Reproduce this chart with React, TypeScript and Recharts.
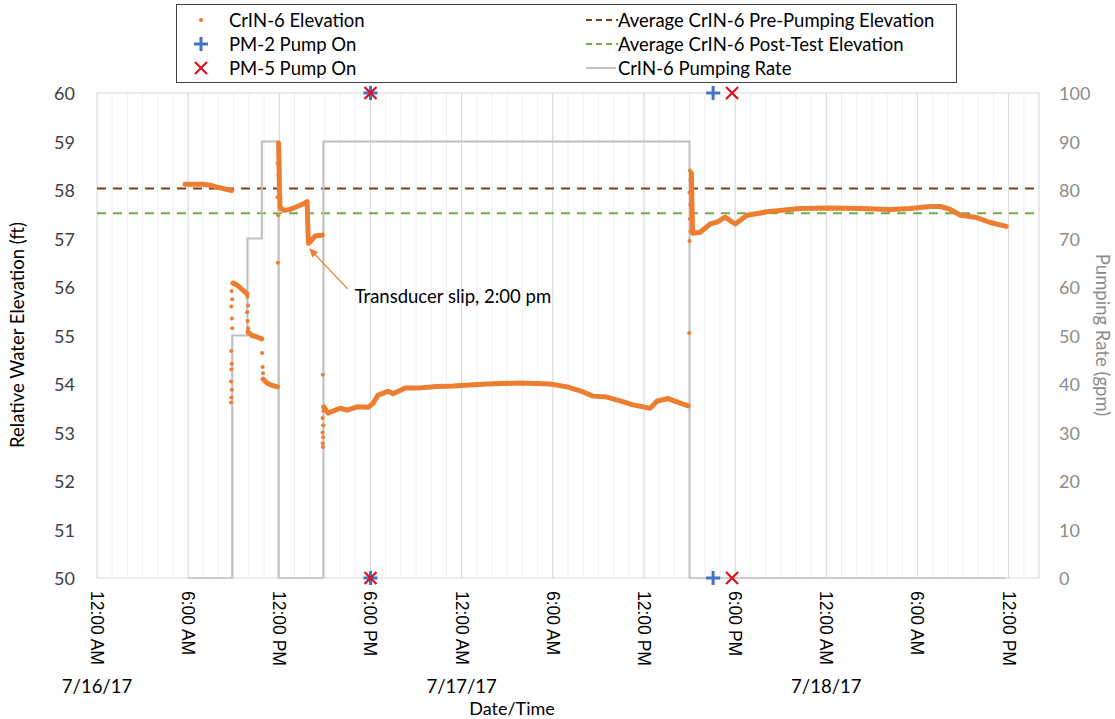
import { ComposedChart, Line, Scatter, XAxis, YAxis, CartesianGrid, ReferenceLine } from 'recharts';

// hours since 7/16/17 12:00 AM
const HOUR_TICKS = Array.from({ length: 63 }, (_, i) => i);
const TIME_LABELS = ['12:00 AM', '6:00 AM', '12:00 PM', '6:00 PM'];
const DATE_LABELS = ['7/16/17', '7/17/17', '7/18/17'];
const ELEV_TICKS = [50, 51, 52, 53, 54, 55, 56, 57, 58, 59, 60];
const RATE_TICKS = [0, 10, 20, 30, 40, 50, 60, 70, 80, 90, 100];

// CrIN-6 elevation, continuous stretches [hour, ft]
const prePumping = [[5.8, 58.12], [6.45, 58.12], [6.98, 58.12], [7.44, 58.1], [7.9, 58.06], [8.43, 58.02], [8.87, 57.99]];
const step50 = [[8.95, 56.08], [9.22, 56.04], [9.55, 55.95], [9.87, 55.86]];
const step70 = [[9.94, 55.07], [10.2, 55.0], [10.53, 54.97], [10.84, 54.93]];
const step90 = [[10.93, 54.1], [11.19, 54.02], [11.52, 53.97], [11.88, 53.94]];
const firstRecovery = [
  [11.95, 58.97], [11.98, 58.6], [12.01, 58.0], [12.05, 57.63], [12.31, 57.58], [12.7, 57.6],
  [13.17, 57.66], [13.63, 57.72], [13.83, 57.76], [13.87, 57.3], [13.92, 56.9], [14.09, 56.95],
  [14.35, 57.05], [14.68, 57.06], [14.83, 57.07],
];
const mainTest = [
  [14.92, 53.53], [15.21, 53.4], [15.6, 53.45], [16.0, 53.5], [16.46, 53.46], [17.12, 53.53],
  [17.84, 53.52], [18.17, 53.6], [18.5, 53.77], [19.16, 53.85], [19.49, 53.8], [20.28, 53.92],
  [21.26, 53.92], [22.38, 53.95], [23.44, 53.96], [24.56, 53.98], [25.67, 54.0], [27.85, 54.02],
  [29.82, 54.0], [30.94, 53.94], [31.8, 53.86], [32.65, 53.75], [33.57, 53.73], [34.43, 53.65],
  [35.29, 53.57], [36.41, 53.5], [36.87, 53.65], [37.59, 53.7], [38.25, 53.62], [38.91, 53.55],
];
const postTest = [
  [39.12, 58.35], [39.2, 57.11], [39.7, 57.13], [40.36, 57.3], [40.82, 57.34], [41.34, 57.44],
  [42.0, 57.3], [42.79, 57.48], [44.1, 57.55], [46.28, 57.62], [48.26, 57.63], [50.23, 57.62],
  [52.2, 57.6], [53.52, 57.62], [54.84, 57.66], [55.5, 57.66], [56.16, 57.6], [56.81, 57.48],
  [57.8, 57.44], [58.79, 57.33], [59.84, 57.25],
];
// sparse readings during rapid changes
const rapidReadings = [
  [8.86, 55.92], [8.9, 55.75], [8.84, 55.6], [8.88, 55.35], [8.9, 55.15], [8.83, 54.68],
  [8.87, 54.42], [8.84, 54.3], [8.82, 54.05], [8.87, 53.88], [8.84, 53.72], [8.82, 53.62],
  [9.9, 55.8], [9.94, 55.62], [9.88, 55.48], [9.91, 55.3], [9.95, 55.15],
  [10.87, 54.64], [10.9, 54.35], [10.92, 54.22],
  [11.9, 56.5], [11.92, 57.48], [11.88, 57.85], [11.93, 58.3], [11.9, 58.55], [11.94, 58.75],
  [14.86, 54.19], [14.9, 53.45], [14.85, 53.3], [14.89, 53.15], [14.84, 53.0], [14.88, 52.9],
  [14.85, 52.78], [14.87, 52.7],
  [39.02, 58.4], [39.06, 58.2], [39.0, 57.95], [39.05, 57.7], [39.02, 57.4], [39.06, 57.15],
  [39.0, 56.95], [38.98, 55.05],
];

// CrIN-6 pumping rate (gpm)
const pumpTimes = [6, 8.9, 9.9, 10.85, 11.95, 14.9, 39.0, 59.84];
const pumpRates = [0, 50, 70, 90, 0, 90, 0, 0];

// pump start markers, drawn at the top and bottom of the plot
const pm2On = [18, 40.55];
const pm5On = [18, 41.8];

const PRE_PUMPING_AVG = 58.03;
const POST_TEST_AVG = 57.52;

const ORANGE = '#ED7D31';
const BLUE = '#4472C4';
const RED = '#E0101E';
const FONT = 'Lato, "Noto Sans", sans-serif';

const toPts = (arr: number[][]) => arr.map(([t, e]) => ({ t, e }));
const pumpData = pumpTimes.map((t, i) => ({ t, rate: pumpRates[i] }));
const edges = (times: number[]) => times.flatMap(t => [{ t, e: 50 }, { t, e: 60 }]);

const XTick = ({ x, payload }: any) => {
  const v = payload.value;
  if (v % 6 !== 0) return <g />;
  const label = TIME_LABELS[(v / 6) % 4];
  const date = v % 24 === 0 ? DATE_LABELS[v / 24] : null;
  return (
    <g>
      <text x={x} y={591} transform={`rotate(90, ${x}, 591)`} textAnchor="start" dominantBaseline="central"
        fontFamily='"Liberation Sans", Arial, sans-serif' fontSize={17.5} fill="#000">{label}</text>
      {date && (
        <text x={x} y={693} textAnchor="middle" fontFamily={FONT} fontSize={18.5} fill="#000">{date}</text>
      )}
    </g>
  );
};

const LeftTick = ({ y, payload }: any) => (
  <text x={75} y={y} textAnchor="end" dominantBaseline="central" fontFamily={FONT} fontSize={18} fill="#404040">
    {payload.value}
  </text>
);

const RightTick = ({ y, payload }: any) => (
  <text x={1059} y={y} textAnchor="start" dominantBaseline="central" fontFamily={FONT} fontSize={18} fill="#8C8C8C">
    {payload.value}
  </text>
);

const Plus = ({ cx, cy }: any) => (
  <path d={`M${cx - 7},${cy}H${cx + 7}M${cx},${cy - 7}V${cy + 7}`} stroke={BLUE} strokeWidth={3} />
);
const Cross = ({ cx, cy }: any) => (
  <path d={`M${cx - 6},${cy - 6}L${cx + 6},${cy + 6}M${cx - 6},${cy + 6}L${cx + 6},${cy - 6}`} stroke={RED} strokeWidth={2.2} />
);
const Dot = ({ cx, cy }: any) => <circle cx={cx} cy={cy} r={2} fill={ORANGE} />;

const Arrow = ({ x1, y1, x2, y2 }: any) => {
  const a = Math.atan2(y2 - y1, x2 - x1);
  const L = 9, W = 4;
  const bx = x2 - L * Math.cos(a), by = y2 - L * Math.sin(a);
  const px = -Math.sin(a) * W, py = Math.cos(a) * W;
  return (
    <g>
      <line x1={x1} y1={y1} x2={bx} y2={by} stroke={ORANGE} strokeWidth={1.2} />
      <polygon points={`${x2},${y2} ${bx + px},${by + py} ${bx - px},${by - py}`} fill={ORANGE} />
      <text x={x1 + 7} y={y1 + 14} fontFamily={FONT} fontSize={18.5} fill="#000">Transducer slip, 2:00 pm</text>
    </g>
  );
};

const legendRow = { display: 'flex', alignItems: 'center', height: 24 } as const;

function LegendBox() {
  return (
    <div style={{
      position: 'absolute', left: 176, top: 4, width: 781, height: 79, border: '1px solid #404040',
      fontFamily: FONT, fontSize: 18.5, color: '#000', background: '#fff', boxSizing: 'border-box',
      display: 'flex', paddingTop: 3,
    }}>
      <div style={{ width: 408 }}>
        <div style={legendRow}>
          <svg width={52} height={24}><circle cx={24} cy={12} r={2} fill={ORANGE} /></svg>CrIN-6 Elevation
        </div>
        <div style={legendRow}>
          <svg width={52} height={24}><Plus cx={24} cy={12} /></svg>PM-2 Pump On
        </div>
        <div style={legendRow}>
          <svg width={52} height={24}><Cross cx={24} cy={12} /></svg>PM-5 Pump On
        </div>
      </div>
      <div>
        <div style={legendRow}>
          <svg width={33} height={24}><line x1={1} y1={12} x2={33} y2={12} stroke="#843C0C" strokeWidth={2} strokeDasharray="6 4" /></svg>
          Average CrIN-6 Pre-Pumping Elevation
        </div>
        <div style={legendRow}>
          <svg width={33} height={24}><line x1={1} y1={12} x2={33} y2={12} stroke="#70AD47" strokeWidth={2} strokeDasharray="6 4" /></svg>
          Average CrIN-6 Post-Test Elevation
        </div>
        <div style={legendRow}>
          <svg width={33} height={24}><line x1={1} y1={12} x2={31} y2={12} stroke="#BFBFBF" strokeWidth={2} /></svg>
          CrIN-6 Pumping Rate
        </div>
      </div>
    </div>
  );
}

export default function App() {
  const segments = [prePumping, step50, step70, step90, firstRecovery, mainTest, postTest];
  return (
    <div style={{ position: 'relative', width: 1115, height: 719, background: '#fff' }}>
      <style>{'body{margin:0}'}</style>
      <ComposedChart width={1115} height={719} margin={{ top: 93, right: 0, bottom: 0, left: 0 }}>
        <CartesianGrid horizontal={false} stroke="#F0F0F0" />
        <XAxis type="number" dataKey="t" domain={[0, 62]} ticks={HOUR_TICKS} interval={0}
          height={141} tick={<XTick />} tickLine={false} axisLine={{ stroke: '#D9D9D9' }} />
        <YAxis yAxisId="elev" domain={[50, 60]} ticks={ELEV_TICKS} width={97}
          tick={<LeftTick />} tickLine={false} axisLine={false} />
        <YAxis yAxisId="rate" orientation="right" domain={[0, 100]} ticks={RATE_TICKS} width={76}
          tick={<RightTick />} tickLine={false} axisLine={false} />
        {[0, 6, 12, 18, 24, 30, 36, 42, 48, 54, 60].map(h => (
          <ReferenceLine key={h} yAxisId="elev" x={h} stroke="#D9D9D9" />
        ))}
        <ReferenceLine yAxisId="elev" x={62} stroke="#D9D9D9" />
        <ReferenceLine yAxisId="elev" y={60} stroke="#D9D9D9" />
        <ReferenceLine yAxisId="elev" y={PRE_PUMPING_AVG} stroke="#843C0C" strokeWidth={2} strokeDasharray="9 7" />
        <ReferenceLine yAxisId="elev" y={POST_TEST_AVG} stroke="#70AD47" strokeWidth={2} strokeDasharray="9 7" />
        <Line yAxisId="rate" data={pumpData} dataKey="rate" type="stepAfter" stroke="#BFBFBF" strokeWidth={2}
          dot={false} isAnimationActive={false} />
        {segments.map((seg, i) => (
          <Line key={i} yAxisId="elev" data={toPts(seg)} dataKey="e" type="linear" stroke={ORANGE} strokeWidth={5}
            strokeLinecap="round" strokeLinejoin="round" dot={false} isAnimationActive={false} />
        ))}
        <Scatter yAxisId="elev" data={toPts(rapidReadings)} dataKey="e" shape={<Dot />} isAnimationActive={false} />
        <ReferenceLine yAxisId="elev" segment={[{ x: 16.5, y: 55.96 }, { x: 13.96, y: 56.8 }]} shape={<Arrow />} />
        <Scatter yAxisId="elev" data={edges(pm2On)} dataKey="e" shape={<Plus />} isAnimationActive={false} />
        <Scatter yAxisId="elev" data={edges(pm5On)} dataKey="e" shape={<Cross />} isAnimationActive={false} />
      </ComposedChart>
      <div style={{ position: 'absolute', left: 17, top: 335, transform: 'translate(-50%,-50%) rotate(-90deg)',
        whiteSpace: 'nowrap', fontFamily: FONT, fontSize: 18.5, color: '#000' }}>Relative Water Elevation (ft)</div>
      <div style={{ position: 'absolute', left: 1103, top: 335, transform: 'translate(-50%,-50%) rotate(90deg)',
        whiteSpace: 'nowrap', fontFamily: FONT, fontSize: 18.5, color: '#8C8C8C' }}>Pumping Rate (gpm)</div>
      <div style={{ position: 'absolute', left: 512, top: 708, transform: 'translate(-50%,-50%)',
        whiteSpace: 'nowrap', fontFamily: FONT, fontSize: 18, color: '#000' }}>Date/Time</div>
      <LegendBox />
    </div>
  );
}
